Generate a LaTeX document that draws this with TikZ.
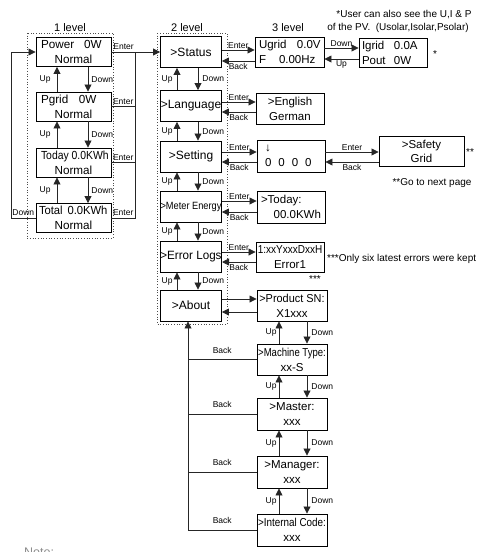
\documentclass[tikz,border=0pt]{standalone}
\usepackage{fontspec}
\usepackage{graphicx}
\setmainfont{Liberation Sans}
\usetikzlibrary{arrows.meta}
\newcommand\fsOne{\fontsize{11.7}{15}\selectfont}
\newcommand\fsTwo{\fontsize{12}{14}\selectfont}
\newcommand\fsThree{\fontsize{11.5}{15}\selectfont}
\newcommand\fsLbl{\fontsize{8.5}{10}\selectfont}
\newcommand\fsNote{\fontsize{10}{12}\selectfont}
\newcommand\fsLvl{\fontsize{11}{13}\selectfont}
\begin{document}
\begin{tikzpicture}[x=1pt,y=-1pt,
  bx/.style={draw=black,line width=0.9pt,inner sep=0pt,align=center},
  b1/.style={bx,minimum width=75pt,minimum height=29pt,font=\fsOne},
  b2/.style={bx,minimum width=61pt,minimum height=31pt,font=\fsTwo},
  b3/.style={bx,minimum width=69pt,minimum height=31pt,font=\fsThree},
  lbl/.style={inner sep=0pt,font=\fsLbl},
  note/.style={inner sep=0pt,font=\fsNote},
  lvl/.style={inner sep=0pt,font=\fsLvl},
  ln/.style={line width=0.8pt,draw=black!85},
  arr/.style={ln,-{Triangle[length=7pt,width=7pt]}},
  frame/.style={draw=black!70,dotted,line width=0.7pt}]
\useasboundingbox (0,0) rectangle (488,552);

% frames
\draw[frame] (27,33) rectangle (113,238);
\draw[frame] (157,33) rectangle (227,324);
\node[lvl] (l1) at (70,28) {1 level};
\node[lvl] (l2) at (187,28) {2 level};
\node[lvl] (l3) at (288,28) {3 level};

% level 1
\node[b1] (p1) at (73.5,52) {\makebox[65pt][l]{Power\hspace{10pt}0W}\\Normal};
\node[b1] (p2) at (73.5,106.5) {\makebox[65pt][l]{Pgrid\hspace{10.5pt}0W}\\Normal};
\node[b1] (p3) at (73.5,162.5) {\makebox[65pt][l]{\scalebox{0.89}[1]{Today 0.0KWh}}\\Normal};
\node[b1] (p4) at (73.5,218) {\makebox[69pt][l]{\scalebox{0.96}[1]{Total\hspace{5pt}0.0KWh}}\\Normal};

% level 2
\node[b2] (st) at (191,52) {>Status};
\node[b2] (la) at (191,106) {>Language};
\node[b2] (se) at (191,156.5) {>Setting};
\node[b2] (me) at (191,206.5) {\scalebox{0.88}[1]{\fontsize{10.5}{12}\selectfont >Meter Energy}};
\node[b2] (er) at (191,256.5) {\scalebox{0.97}[1]{>Error Logs}};
\node[b2] (ab) at (191,305.5) {>About};

% level 3
\node[b3,minimum height=30pt,align=left,text width=61pt] (ug) at (289.5,52) {\makebox[38pt][l]{Ugrid}0.0V\\\makebox[20pt][l]{F}0.00Hz};
\node[b3,minimum width=68pt,minimum height=29pt,align=left,text width=62pt] (ig) at (393,52.5) {\makebox[32pt][l]{Igrid}0.0A\\\makebox[32pt][l]{Pout}0W};
\node[b3,minimum width=68pt] (en) at (290,108.5) {>English\\German};
\node[b3,minimum width=68pt,minimum height=32pt,align=left,text width=52pt] (sz) at (291,156) {↓\\0\hspace{7pt}0\hspace{7pt}0\hspace{7pt}0};
\node[b3,minimum width=85pt,minimum height=30pt,font=\fontsize{11.5}{14}\selectfont] (sf) at (421.5,151) {>Safety\\Grid};
\node[b3,minimum width=68pt,minimum height=32pt] (td) at (291,207) {\makebox[60pt][l]{>Today:}\\\makebox[60pt][r]{00.0KWh}};
\node[b3,minimum width=68pt,minimum height=30pt] (el) at (290,257) {\scalebox{0.87}[1]{1:xxYxxxDxxH}\\Error1};
\node[b3,minimum width=70pt] (ps) at (292,305.5) {\scalebox{0.95}[1]{>Product SN:}\\X1xxx};
\node[b3,minimum width=70pt] (mt) at (292,359.5) {\scalebox{0.83}[1]{>Machine Type:}\\xx-S};
\node[b3,minimum width=70pt,minimum height=32pt] (ma) at (292,414) {>Master:\\xxx};
\node[b3,minimum width=70pt,minimum height=32pt] (mg) at (292,472) {>Manager:\\xxx};
\node[b3,minimum width=70pt,minimum height=32pt] (ic) at (292,530) {\scalebox{0.86}[1]{>Internal Code:}\\xxx};

% level 1 up/down
\foreach \a/\b in {p1/p2,p2/p3,p3/p4}{
  \draw[arr] ([xshift=-16.5pt]\b.north) -- node[lbl,left=6pt]{Up} ([xshift=-16.5pt]\a.south);
  \draw[arr] ([xshift=14.5pt]\a.south) -- node[lbl,right=3pt]{Down} ([xshift=14.5pt]\b.north);
}
% left loop
\coordinate (lp) at (11,0);
\draw[arr] (p4.west) -- node[lbl,above=2pt]{Down} (p4.west -| lp) |- (p1.west);
% enter bus
\coordinate (bus) at (135,52);
\draw[arr] (p1.east) -- node[lbl,above=2pt,pos=0.25]{Enter} (p1.east -| st.west);
\draw[ln] (p2.east) -- node[lbl,above=2pt]{Enter} (p2.east -| bus);
\draw[ln] (p3.east) -- node[lbl,above=2pt]{Enter} (p3.east -| bus);
\draw[ln] (p4.east) -- node[lbl,above=2pt]{Enter} (p4.east -| bus) -- (bus);

% level 2 up/down
\foreach \a/\b in {st/la,la/se,se/me,me/er,er/ab}{
  \draw[arr] ([xshift=-14pt]\b.north) -- node[lbl,left=4pt]{Up} ([xshift=-14pt]\a.south);
  \draw[arr] ([xshift=7pt]\a.south) -- node[lbl,right=4pt]{Down} ([xshift=7pt]\b.north);
}

% level 2 -> level 3
\foreach \s/\t/\e/\k in {st/ug/2/-9, la/en/4/-6, se/sz/4.5/-5.5, me/td/5.5/-5.5, er/el/4.5/-5.5}{
  \coordinate (E) at ([yshift=\e pt]\s.east);
  \draw[arr] (E) -- node[lbl,above=1.5pt]{Enter} (E -| \t.west);
  \coordinate (K) at ([yshift=\k pt]\s.east);
  \draw[arr] (K -| \t.west) -- node[lbl,below=1.5pt]{Back} (K);
}
\coordinate (A1) at ([yshift=6.5pt]ab.east);
\draw[arr] (A1) -- (A1 -| ps.west);
\coordinate (A2) at ([yshift=-6.5pt]ab.east);
\draw[arr] (A2 -| ps.west) -- (A2);

% ugrid <-> igrid
\coordinate (U1) at ([yshift=4pt]ug.east);
\draw[arr] (U1) -- node[lbl,above=1.5pt]{Down} (U1 -| ig.west);
\coordinate (U2) at ([yshift=-7pt]ug.east);
\draw[arr] (U2 -| ig.west) -- node[lbl,below=1.5pt]{Up} (U2);

% setting -> safety
\coordinate (S1) at ([yshift=4pt]sz.east);
\draw[arr] (S1) -- node[lbl,above=1.5pt]{Enter} (S1 -| sf.west);
\coordinate (S2) at ([yshift=-6pt]sz.east);
\draw[arr] (S2 -| sf.west) -- node[lbl,below=1.5pt]{Back} (S2);

% about column
\foreach \a/\b in {ps/mt,mt/ma,ma/mg,mg/ic}{
  \draw[arr] ([xshift=-13pt]\b.north) -- node[lbl,left=2pt]{Up} ([xshift=-13pt]\a.south);
  \draw[arr] ([xshift=15pt]\a.south) -- node[lbl,right=4pt]{Down} ([xshift=15pt]\b.north);
}
\coordinate (bb) at (188,0);
\draw[ln] (mt.west) -- node[lbl,above=6pt]{Back} (mt.west -| bb);
\draw[ln] (ma.west) -- node[lbl,above=6pt]{Back} (ma.west -| bb);
\draw[ln] (mg.west) -- node[lbl,above=6pt]{Back} (mg.west -| bb);
\draw[arr] (ic.west) -- node[lbl,above=6pt]{Back} (ic.west -| bb) -- (bb |- ab.south);

% notes
\node[note] (n1) at (404,15) {*User can also see the U,I \& P};
\node[note] (n2) at (398,28) {of the PV.\ \ (Usolar,Isolar,Psolar)};
\node[note] (s1) at (435,54) {*};
\node[note] (s2) at (470,152) {**};
\node[note] (n3) at (432,183) {**Go to next page};
\node[note] (s3) at (315,279) {***};
\node[note,anchor=west] (n4) at (327,259) {***Only six latest errors were kept};
\node[inner sep=0pt,anchor=base west,text=black!45,font=\fontsize{12.5}{14}\selectfont] (nt) at (24,556) {Note:};
\end{tikzpicture}
\end{document}
